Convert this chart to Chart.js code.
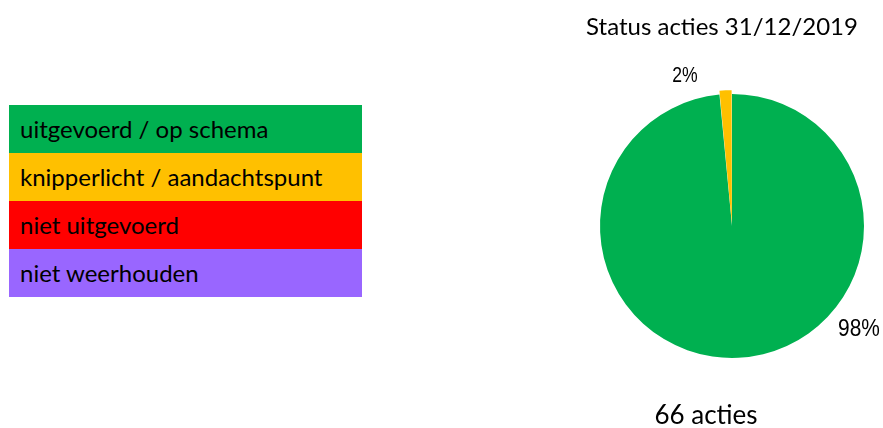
<!DOCTYPE html>
<html>
<head>
<meta charset="utf-8">
<script src="https://cdn.jsdelivr.net/npm/chart.js@4.4.1/dist/chart.umd.min.js"></script>
<style>
    html, body { margin: 0; padding: 0; background: #fff; }
    #wrap { position: relative; width: 883px; height: 428px; }
    #chart { position: absolute; left: 0; top: 0; }
    #legend { position: absolute; left: 9px; top: 105px; width: 353px; }
    .legend-row {
        height: 48px;
        line-height: 48px;
        padding-left: 11px;
        font-family: Lato, "Open Sans", sans-serif;
        font-size: 24px;
        color: #000;
        box-sizing: border-box;
        white-space: nowrap;
    }
</style>
</head>
<body>
<div id="wrap">
    <div id="legend"></div>
    <canvas id="chart" width="883" height="428"></canvas>
</div>
<script>
// Status categories and the number of actions in each
const categories = ['uitgevoerd / op schema', 'knipperlicht / aandachtspunt', 'niet uitgevoerd', 'niet weerhouden'];
const counts = [65, 1, 0, 0];
const colors = ['#00B050', '#FFC000', '#FF0000', '#9966FF'];
const chartTitle = 'Status acties 31/12/2019';

const total = counts.reduce((sum, v) => sum + v, 0);

// Build the coloured legend blocks on the left
const legendEl = document.getElementById('legend');
categories.forEach((label, i) => {
    const row = document.createElement('div');
    row.className = 'legend-row';
    row.style.backgroundColor = colors[i];
    row.textContent = label;
    legendEl.appendChild(row);
});

// Draws title, percentage labels and the total underneath
const annotations = {
    id: 'annotations',
    afterDatasetsDraw(chart) {
        const ctx = chart.ctx;
        const meta = chart.getDatasetMeta(0);
        const first = meta.data[0];
        const cx = first.x;
        const cy = first.y;

        ctx.save();
        ctx.fillStyle = '#000';
        ctx.textAlign = 'center';
        ctx.textBaseline = 'middle';

        // title and total
        ctx.font = '24px Lato, "Open Sans", sans-serif';
        ctx.fillText(chartTitle, cx - 10, 27);
        ctx.font = '26px Lato, "Open Sans", sans-serif';
        ctx.fillText(total + ' acties', cx - 26, 416);

        // percentage labels, placed outside the pie (narrow Arial-like look)
        const placement = [
            { angle: 39.3, dist: 164, size: 24, squeeze: 0.87 },
            { angle: -107.4, dist: 157, size: 22, squeeze: 0.8 }
        ];
        meta.data.forEach((arc, i) => {
            if (!counts[i]) return;
            const p = placement[i] || { angle: 0, dist: 160, size: 20, squeeze: 1 };
            const a = p.angle * Math.PI / 180;
            const pct = Math.round(counts[i] / total * 100) + '%';
            ctx.save();
            ctx.translate(cx + Math.cos(a) * p.dist, cy + Math.sin(a) * p.dist);
            ctx.scale(p.squeeze, 1);
            ctx.font = p.size + 'px "Liberation Sans", Arial, sans-serif';
            ctx.fillText(pct, 0, 0);
            ctx.restore();
        });
        ctx.restore();
    }
};

new Chart(document.getElementById('chart'), {
    type: 'pie',
    data: {
        labels: categories,
        datasets: [{
            data: counts,
            backgroundColor: colors,
            borderWidth: 0,
            offset: [0, 8, 0, 0]
        }]
    },
    options: {
        responsive: false,
        animation: false,
        radius: 132,
        layout: {
            padding: { left: 591, right: 10, top: 84, bottom: 60 }
        },
        plugins: {
            legend: { display: false },
            tooltip: { enabled: false }
        }
    },
    plugins: [annotations]
});
</script>
</body>
</html>
